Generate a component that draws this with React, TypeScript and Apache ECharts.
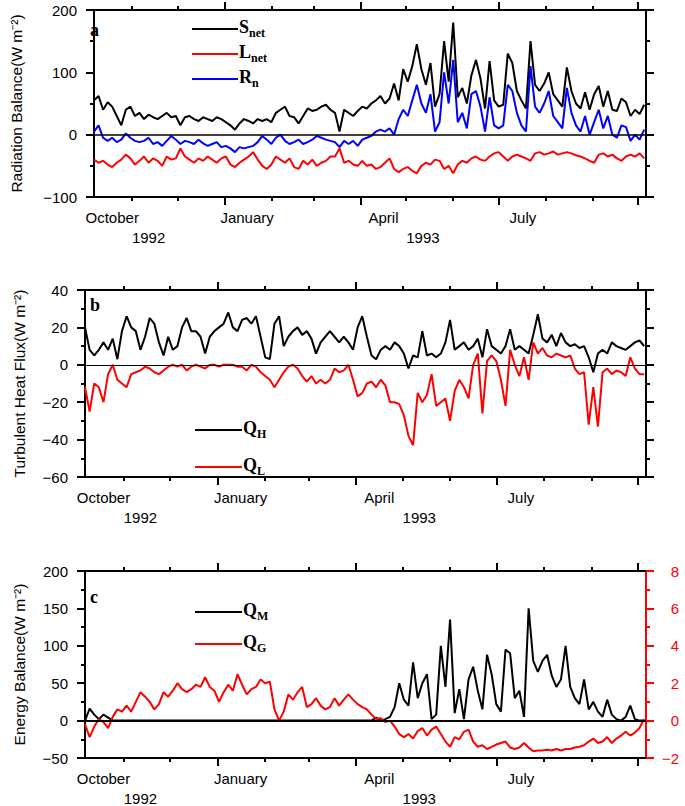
import React, { useEffect, useRef } from "react";
import * as echarts from "echarts";

// ---------- sampling grid (every 3 days from 7 Oct 1992) ----------
const START_UTC = Date.UTC(1992, 9, 7);
const STEP_DAYS = 3;
const dayOf = (y: number, m: number, d: number) => (Date.UTC(y, m, d) - START_UTC) / 86400000;
const X_MIN = 0;
const X_MAX = dayOf(1993, 9, 6) + 0.2;

const MONTH_START_DATES: number[][] = [
  [1992, 10], [1992, 11], [1993, 0], [1993, 1], [1993, 2], [1993, 3],
  [1993, 4], [1993, 5], [1993, 6], [1993, 7], [1993, 8], [1993, 9],
];
const QUARTER_START_DATES: number[][] = [[1993, 0], [1993, 3], [1993, 6], [1993, 9]];
const MONTH_LABELS = ["October", "January", "April", "July"];
const MONTH_LABEL_DATES: number[][] = [[1992, 9, 19], [1993, 0, 16], [1993, 3, 16], [1993, 6, 17]];
const YEAR_LABELS = ["1992", "1993"];
const YEAR_LABEL_DATES: number[][] = [[1992, 10, 12], [1993, 4, 12]];

// ---------- panel a : radiation balance (W m-2) ----------
const S_NET = [
  55, 62, 40, 52, 45, 30, 15, 40, 45, 30,
  35, 25, 32, 28, 25, 30, 35, 28, 30, 15,
  28, 30, 25, 22, 28, 25, 22, 28, 25, 20,
  15, 8, 18, 25, 22, 18, 25, 22, 25, 20,
  35, 40, 45, 30, 28, 18, 30, 42, 38, 40,
  45, 48, 40, 35, 5, 40,
  35, 30, 38, 45, 42, 50, 55, 62, 50, 58,
  82, 55, 105, 85, 110, 145, 105, 80, 115, 45,
  65, 150, 85, 180, 60, 75, 50, 95, 120, 90,
  42, 118, 55, 45, 48, 130, 115, 70, 55, 42,
  150, 80, 70, 82, 100, 65, 55, 45, 108, 70,
  50, 42, 68, 40, 65, 78, 45, 70, 40, 38,
  58, 52, 30, 40, 33, 48,
];
const L_NET = [
  -40, -45, -42, -48, -52, -45, -40, -32, -38, -48,
  -42, -35, -45, -38, -42, -50, -35, -40, -38, -22,
  -35, -40, -45, -38, -42, -35, -40, -45, -38, -35,
  -48, -52, -45, -40, -35, -28, -40, -50, -55, -48,
  -35, -40, -45, -38, -52, -55, -42, -48, -40, -50,
  -45, -42, -35, -35, -22, -45,
  -42, -48, -50, -42, -50, -48, -55, -52, -45, -38,
  -55, -60, -55, -52, -58, -62, -50, -45, -48, -40,
  -42, -55, -50, -62, -48, -42, -45, -38, -35, -40,
  -42, -35, -30, -28, -35, -42, -35, -32, -35, -38,
  -42, -30, -28, -32, -30, -27, -32, -30, -28, -30,
  -33, -35, -38, -42, -45, -32, -30, -35, -32, -38,
  -42, -35, -32, -35, -30, -38,
];
const R_N = [
  5, 15, -5, -10, -5, -12, -8, 2, -5, -10,
  -12, -10, -5, -15, -12, -18, -10, -2, -8, -15,
  -10, -12, -15, -8, -14, -18, -15, -12, -20, -18,
  -22, -28, -20, -22, -20, -18, -12, -2, -8, -15,
  -5, 0, -10, -15, -12, -8, -15, -12, -8, -2,
  -5, -8, -10, -12, -20, -10,
  -15, -10, -18, -8, -5, -2, 5, 8, 5, 10,
  0, 25, 40, 30, 55, 80, 50, 35, 65, 5,
  20, 100, 50, 120, 20, 35, 10, 65, 70, 45,
  5, 60, 15, 10, 15, 80, 70, 35, 15, 5,
  110, 45, 35, 50, 70, 30, 20, 10, 75, 35,
  15, 5, 30, 0, 20, 40, 10, 30, 0, -5,
  15, 12, -10, 0, -8, 8,
];

// ---------- panel b : turbulent heat flux (W m-2) ----------
const Q_H = [
  20, 8, 5, 8, 12, 8, 14, 3, 18, 26,
  20, 18, 8, 15, 25, 22, 12, 5, 15, 8,
  10, 20, 25, 18, 18, 15, 6, 15, 18, 20,
  22, 28, 20, 18, 24, 25, 22, 26, 15, 4,
  3, 22, 26, 10, 15, 18, 20, 16, 18, 14,
  6, 12, 15, 18, 15, 12,
  15, 12, 8, 20, 26, 15, 5, 3, 8, 10,
  8, 12, 10, 6, -2, 5, 4, 18, 5, 6,
  4, 6, 12, 24, 8, 10, 12, 8, 10, 14,
  4, 19, 10, 8, 6, 10, 19, 8, 10, 8,
  6, 16, 27, 14, 12, 16, 10, 17, 12, 10,
  11, 9, 10, 4, -4, 6, 8, 6, 12, 10,
  9, 8, 10, 12, 13, 10,
];
const Q_L = [
  -12, -25, -10, -12, -20, -5, 0, -8, -10, -12,
  -5, -4, -3, -1, -2, -4, -5, -3, -1, 0,
  -1, 0, -3, -1, 0, -1, -2, 0, 0, -1,
  0, 0, 0, -1, -1, -3, 0, -1, -4, -6,
  -8, -12, -8, -4, -1, 0, -2, -6, -9, -6,
  -10, -8, -10, -8, -2, -4,
  -3, 0, -8, -17, -15, -10, -9, -12, -8, -11,
  -20, -20, -21, -27, -38, -43, -15, -20, -16, -5,
  -22, -20, -18, -30, -14, -8, -12, -18, 0, 6,
  -26, 2, 5, 2, -8, -22, 8, 0, -6, 4,
  -8, 12, 6, 9, 5, 4, 6, 5, 4, 5,
  -2, -5, -4, -32, -12, -33, -4, -2, -5, -3,
  -4, -6, 4, -2, -5, -5,
];

// ---------- panel c : energy balance ----------
const Q_M = [
  0, 16, 8, 2, 8, 4, 0, 0, 0, 0,
  0, 0, 0, 0, 0, 0, 0, 0, 0, 0,
  0, 0, 0, 0, 0, 0, 0, 0, 0, 0,
  0, 0, 0, 0, 0, 0, 0, 0, 0, 0,
  0, 0, 0, 0, 0, 0, 0, 0, 0, 0,
  0, 0, 0, 0, 0, 0,
  0, 0, 0, 0, 0, 0, 0, 4, 0, 2,
  5, 18, 50, 28, 20, 78, 30, 50, 62, 2,
  8, 100, 45, 135, 10, 42, 2, 55, 72, 40,
  15, 88, 62, 22, 12, 95, 90, 30, 40, 5,
  150, 80, 65, 80, 88, 60, 45, 55, 100, 45,
  30, 22, 55, 15, 25, 12, 5, 28, 8, 2,
  0, 5, 20, 2, 0, 0,
];
// Q_G on the right-hand (red) axis
const Q_G = [
  -0.2, -0.88, -0.32, 0.08, -0.08, -0.4, 0.2, 0.6, 0.48, 0.8,
  0.48, 1.0, 1.52, 1.28, 1.0, 0.6, 0.88, 1.52, 1.28, 1.6,
  2.0, 1.68, 1.52, 1.68, 1.92, 1.8, 2.32, 1.8, 1.6, 1.0,
  1.52, 1.92, 1.6, 2.48, 1.92, 1.4, 1.68, 1.8, 2.2, 2.0,
  2.08, 0.6, 0.0, 0.48, 1.4, 1.12, 1.52, 1.8, 0.72, 0.88,
  1.2, 0.8, 0.6, 0.72, 1.2, 0.8,
  1.12, 1.4, 1.12, 0.88, 0.72, 0.6, 0.32, 0.08, 0.12, -0.08,
  0, -0.32, -0.72, -0.88, -0.72, -0.96, -0.56, -0.4, -0.8, -0.48,
  -0.32, -0.72, -1.12, -1.4, -0.88, -1.0, -0.6, -0.48, -1.12, -1.4,
  -1.32, -1.52, -1.4, -1.28, -1.2, -1.12, -1.44, -1.52, -1.44, -1.2,
  -1.44, -1.64, -1.6, -1.6, -1.56, -1.6, -1.52, -1.6, -1.52, -1.52,
  -1.44, -1.4, -1.32, -1.12, -0.96, -1.2, -1.12, -0.88, -1.2, -0.96,
  -0.8, -0.6, -0.8, -0.64, -0.4, 0.08,
];

// ---------- styling ----------
const SANS = '"Liberation Sans", Arial, Helvetica, sans-serif';
const SERIF = '"Liberation Serif", "Times New Roman", serif';
const BLACK = "#000000";
const RED = "#ff0000";
const BLUE = "#0000ff";
const GRID_LEFT = 85;
const GRID_WIDTH = 561;
const GRID_HEIGHT = 187;
const GRID_TOPS = [10, 290, 571];

const MONTH_DAYS = MONTH_START_DATES.map(([y, m]) => dayOf(y, m, 1));
const QUARTER_DAYS = QUARTER_START_DATES.map(([y, m]) => dayOf(y, m, 1));
const MONTH_LABEL_DAYS = MONTH_LABEL_DATES.map(([y, m, d]) => dayOf(y, m, d));
const YEAR_LABEL_DAYS = YEAR_LABEL_DATES.map(([y, m, d]) => dayOf(y, m, d));

const toSeries = (vals: number[]) => vals.map((v, i) => [i * STEP_DAYS, v]);
const negFmt = (v: number) => (v < 0 ? "\u2212" + Math.abs(v) : String(v));
const pickLabel = (days: number[], labels: string[]) => (v: number) => {
  let best = 0;
  for (let i = 1; i < days.length; i++) if (Math.abs(days[i] - v) < Math.abs(days[best] - v)) best = i;
  return labels[best];
};

function xAxesFor(g: number) {
  const base: any = {
    type: "value", gridIndex: g, min: X_MIN, max: X_MAX,
    splitLine: { show: false },
    axisLine: { show: false, onZero: false },
    axisTick: { show: false },
    axisLabel: { show: false },
  };
  const line = { show: true, onZero: false, lineStyle: { color: BLACK, width: 2 } };
  const tickStyle = { color: BLACK, width: 2 };
  return [
    {
      ...base, position: "bottom", axisLine: line,
      axisTick: { show: true, customValues: QUARTER_DAYS, length: 8, lineStyle: tickStyle },
      axisLabel: {
        show: true, customValues: MONTH_LABEL_DAYS, formatter: pickLabel(MONTH_LABEL_DAYS, MONTH_LABELS),
        margin: 13, fontSize: 15, fontFamily: SANS, color: BLACK,
      },
    },
    { ...base, position: "bottom", axisTick: { show: true, customValues: MONTH_DAYS, length: 4, lineStyle: tickStyle } },
    {
      ...base, position: "bottom",
      axisLabel: {
        show: true, customValues: YEAR_LABEL_DAYS, formatter: pickLabel(YEAR_LABEL_DAYS, YEAR_LABELS),
        margin: 33, fontSize: 15, fontFamily: SANS, color: BLACK,
      },
    },
    { ...base, position: "top", axisLine: line, axisTick: { show: true, customValues: QUARTER_DAYS, length: 8, lineStyle: tickStyle } },
    { ...base, position: "top", axisTick: { show: true, customValues: MONTH_DAYS, length: 4, lineStyle: tickStyle } },
  ];
}

function yAxis(g: number, pos: "left" | "right", min: number, max: number, interval: number, opts: any = {}) {
  const color = opts.color || BLACK;
  const axisLabel: any = {
    show: opts.labels !== false, formatter: negFmt, margin: opts.margin ?? 17,
    fontSize: 15, fontFamily: SANS, color,
  };
  if (opts.align) axisLabel.align = opts.align;
  return {
    type: "value", gridIndex: g, position: pos, min, max, interval,
    splitLine: { show: false }, minorSplitLine: { show: false },
    axisLine: { show: true, onZero: false, lineStyle: { color, width: 2 } },
    axisTick: { show: true, length: 8, lineStyle: { color, width: 2 } },
    minorTick: { show: true, splitNumber: 2, length: 4, lineStyle: { color, width: 2 } },
    axisLabel,
    name: opts.name || "", nameLocation: "middle", nameGap: opts.nameGap ?? 60,
    nameTextStyle: { fontSize: 15.5, fontFamily: SANS, color: BLACK },
  };
}

const measure = (text: string, font: string) => {
  const ctx = document.createElement("canvas").getContext("2d")!;
  ctx.font = font;
  return ctx.measureText(text).width;
};

function legendItem(x1: number, x2: number, y: number, color: string, main: string, sub: string) {
  const w = measure(main, `bold 18px ${SERIF}`);
  return [
    { type: "line", shape: { x1, y1: y, x2, y2: y }, style: { stroke: color, lineWidth: 2 } },
    {
      type: "text", x: x2 + 1, y: y - 2.5,
      style: { text: main, fontSize: 18, fontWeight: "bold", fontFamily: SERIF, fill: BLACK, align: "left", verticalAlign: "middle" },
    },
    {
      type: "text", x: x2 + 1 + w, y: y + 4,
      style: { text: sub, fontSize: 12, fontWeight: "bold", fontFamily: SERIF, fill: BLACK, align: "left", verticalAlign: "middle" },
    },
  ];
}

function panelLabel(text: string, x: number, y: number) {
  return {
    type: "text", x, y,
    style: { text, fontSize: 18, fontWeight: "bold", fontFamily: SERIF, fill: BLACK, align: "left", verticalAlign: "middle" },
  };
}

function lineSeries(name: string, data: number[], color: string, g: number, yIdx: number, zero = 0) {
  const s: any = {
    name, type: "line", xAxisIndex: g * 5, yAxisIndex: yIdx, data: toSeries(data),
    showSymbol: false, symbol: "none", lineStyle: { color, width: 2 }, itemStyle: { color },
  };
  if (zero) {
    s.markLine = {
      silent: true, symbol: "none", label: { show: false },
      lineStyle: { color: BLACK, width: zero, type: "solid" },
      data: [{ yAxis: 0 }],
    };
  }
  return s;
}

function buildOption() {
  return {
    animation: false,
    textStyle: { fontFamily: SANS },
    grid: GRID_TOPS.map((top) => ({ left: GRID_LEFT, top, width: GRID_WIDTH, height: GRID_HEIGHT })),
    xAxis: [...xAxesFor(0), ...xAxesFor(1), ...xAxesFor(2)],
    yAxis: [
      yAxis(0, "left", -100, 200, 100, { name: "Radiation Balance(W m\u207B\u00B2)", nameGap: 70 }),
      yAxis(0, "right", -100, 200, 100, { labels: false }),
      yAxis(1, "left", -60, 40, 20, { name: "Turbulent Heat Flux(W m\u207B\u00B2)", nameGap: 58 }),
      yAxis(1, "right", -60, 40, 20, { labels: false }),
      yAxis(2, "left", -50, 200, 50, { name: "Energy Balance(W m\u207B\u00B2)", nameGap: 58 }),
      yAxis(2, "right", -2, 8, 2, { color: RED, align: "right", margin: 33 }),
    ],
    series: [
      lineSeries("Snet", S_NET, BLACK, 0, 0, 1.5),
      lineSeries("Lnet", L_NET, RED, 0, 0),
      lineSeries("Rn", R_N, BLUE, 0, 0),
      lineSeries("QH", Q_H, BLACK, 1, 2, 1.2),
      lineSeries("QL", Q_L, RED, 1, 2),
      lineSeries("QM", Q_M, BLACK, 2, 4, 2),
      lineSeries("QG", Q_G, RED, 2, 5),
    ],
    graphic: [
      panelLabel("a", 90, 30),
      panelLabel("b", 90, 305),
      panelLabel("c", 90, 597),
      ...legendItem(192, 238, 29, BLACK, "S", "net"),
      ...legendItem(192, 238, 54, RED, "L", "net"),
      ...legendItem(192, 238, 79, BLUE, "R", "n"),
      ...legendItem(195, 242, 430, BLACK, "Q", "H"),
      ...legendItem(195, 242, 467, RED, "Q", "L"),
      ...legendItem(195, 242, 612, BLACK, "Q", "M"),
      ...legendItem(195, 242, 644, RED, "Q", "G"),
    ],
  };
}

export default function App() {
  const ref = useRef<HTMLDivElement>(null);
  useEffect(() => {
    if (!ref.current) return;
    const chart = echarts.init(ref.current, null, { renderer: "svg" });
    chart.setOption(buildOption() as any);
    return () => chart.dispose();
  }, []);
  return <div ref={ref} style={{ position: "absolute", left: 0, top: 0, width: 685, height: 806, background: "#fff" }} />;
}
